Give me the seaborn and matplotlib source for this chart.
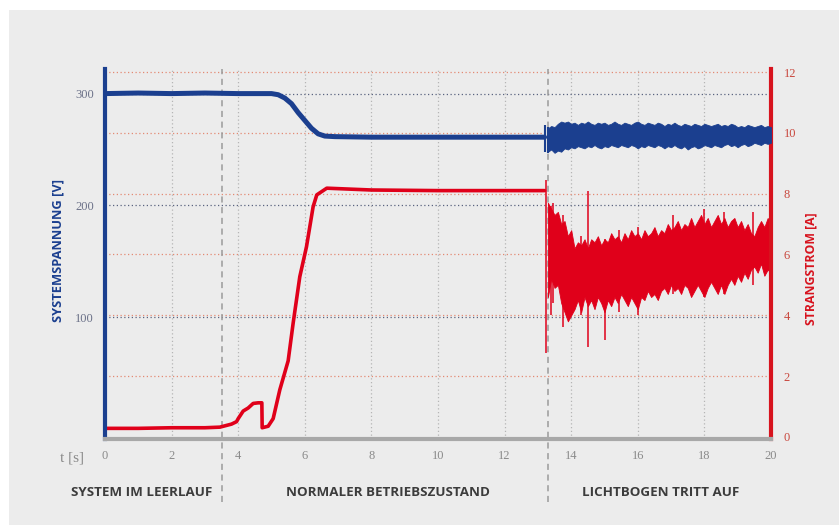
import matplotlib
matplotlib.use('Agg')
import matplotlib.pyplot as plt
import matplotlib.transforms as mtransforms
from matplotlib.patches import Rectangle
import seaborn as sns

# --- data ------------------------------------------------------------------
# steady part of the system voltage [V]
volt_t = [0, 1, 2, 3, 4, 5.0, 5.2, 5.4, 5.6, 5.8, 6.0, 6.2, 6.4, 6.6, 6.9, 8, 10, 12, 13.2]
volt_v = [300, 300.5, 300, 300.5, 300, 300, 299, 296, 291, 283, 276, 269, 264, 262, 261.5, 261, 261, 261, 261]

# steady part of the string current [A]
curr_t = [0, 1, 2, 3, 3.45, 3.8, 3.95, 4.0, 4.15, 4.3, 4.45, 4.6, 4.71, 4.72, 4.9, 5.05,
          5.25, 5.5, 5.65, 5.85, 6.05, 6.25, 6.36, 6.66, 8, 10, 12, 13.2]
curr_v = [0.28, 0.28, 0.3, 0.3, 0.32, 0.42, 0.5, 0.6, 0.85, 0.95, 1.1, 1.12, 1.12, 0.3, 0.35, 0.6,
          1.55, 2.5, 3.74, 5.27, 6.25, 7.57, 7.96, 8.18, 8.12, 8.1, 8.1, 8.1]

# arc phase (13.3 s .. 20 s, every 0.1 s): envelopes of the noisy traces
arc_t = [13.3, 13.4, 13.5, 13.6, 13.7, 13.8, 13.9, 14.0, 14.1, 14.2, 14.3, 14.4, 14.5, 14.6,
         14.7, 14.8, 14.9, 15.0, 15.1, 15.2, 15.3, 15.4, 15.5, 15.6, 15.7, 15.8, 15.9, 16.0,
         16.1, 16.2, 16.3, 16.4, 16.5, 16.6, 16.7, 16.8, 16.9, 17.0, 17.1, 17.2, 17.3, 17.4,
         17.5, 17.6, 17.7, 17.8, 17.9, 18.0, 18.1, 18.2, 18.3, 18.4, 18.5, 18.6, 18.7, 18.8,
         18.9, 19.0, 19.1, 19.2, 19.3, 19.4, 19.5, 19.6, 19.7, 19.8, 19.9, 20.0]
volt_hi = [269, 271, 270, 273, 275, 274, 275, 273, 274, 272, 274, 273, 275, 273,
           272, 274, 273, 274, 272, 273, 275, 273, 272, 274, 273, 272, 274, 275,
           273, 272, 274, 273, 272, 274, 273, 271, 273, 272, 274, 272, 271, 273,
           272, 271, 273, 272, 271, 273, 272, 271, 272, 273, 271, 272, 271, 273,
           272, 270, 271, 270, 272, 271, 270, 271, 272, 270, 271, 270]
volt_lo = [248, 250, 247, 249, 248, 251, 250, 252, 251, 253, 252, 251, 253, 252,
           254, 252, 251, 253, 252, 254, 253, 252, 254, 253, 252, 254, 253, 251,
           253, 252, 254, 253, 252, 254, 253, 251, 253, 252, 254, 252, 251, 253,
           250, 252, 253, 251, 252, 254, 253, 252, 254, 253, 252, 254, 255, 253,
           254, 252, 254, 255, 253, 254, 256, 255, 254, 256, 255, 256]
curr_hi = [7.7, 7.5, 7.3, 7.4, 7.0, 7.1, 6.6, 6.8, 6.2, 6.4, 6.3, 6.5, 6.2, 6.5,
           6.4, 6.6, 6.3, 6.5, 6.4, 6.7, 6.5, 6.6, 6.4, 6.7, 6.5, 6.8, 6.6, 6.7,
           6.5, 6.8, 6.6, 6.7, 6.9, 6.6, 6.8, 6.7, 7.0, 6.8, 6.9, 7.1, 6.8, 7.0,
           6.9, 7.2, 6.9, 7.1, 7.3, 7.0, 7.2, 6.9, 7.1, 7.3, 7.0, 7.2, 6.9, 7.1,
           7.2, 6.9, 7.1, 6.8, 7.0, 6.7, 6.6, 6.9, 7.1, 6.9, 7.2, 7.0]
curr_lo = [4.6, 5.2, 4.9, 5.0, 4.4, 4.1, 3.8, 4.0, 4.2, 4.5, 4.1, 4.6, 4.3, 4.5,
           4.2, 4.6, 4.4, 4.1, 4.5, 4.3, 4.6, 4.4, 4.7, 4.5, 4.3, 4.6, 4.4, 4.2,
           4.6, 4.5, 4.8, 4.6, 4.7, 4.5, 4.8, 4.9, 4.7, 5.0, 4.8, 4.9, 4.7, 5.0,
           4.9, 4.6, 4.8, 5.0, 4.8, 4.6, 4.9, 5.1, 4.9, 4.7, 5.0, 4.7, 5.0, 5.2,
           5.0, 5.3, 5.1, 5.4, 5.2, 5.5, 5.6, 5.4, 5.7, 5.3, 5.5, 5.4]

# single spikes in the current during the arc (time, low, high)
spike_t = [13.25, 13.4, 13.45, 13.75, 14.5, 14.3, 15.0, 15.45, 16.0, 17.05, 18.0, 18.6, 19.45]
spike_lo = [2.75, 4.0, 4.4, 3.6, 2.95, 4.0, 3.2, 4.1, 4.0, 4.7, 4.6, 4.7, 5.0]
spike_hi = [8.45, 7.6, 7.7, 7.3, 8.1, 6.6, 6.5, 6.8, 6.9, 7.3, 7.5, 7.4, 7.4]

# blue glitch at arc ignition (time, low, high)
vspike_t = [13.22, 13.3]
vspike_lo = [248, 247]
vspike_hi = [272, 270]

phase_x = [3.5, 13.3]
phase_labels = ['SYSTEM IM LEERLAUF', 'NORMALER BETRIEBSZUSTAND', 'LICHTBOGEN TRITT AUF']
phase_label_x = [1.1, 8.5, 16.7]

x_ticks = [0, 2, 4, 6, 8, 10, 12, 14, 16, 18, 20]
left_ticks = [100, 200, 300]
right_ticks = [0, 2, 4, 6, 8, 10, 12]

BLUE = '#1b3f8f'
RED = '#e0001a'
PANEL = '#ececec'

sns.set_theme(style='white')
serif = ['Liberation Serif', 'DejaVu Serif']
narrow = ['Liberation Sans Narrow', 'Open Sans', 'DejaVu Sans']

fig = plt.figure(figsize=(8.39, 5.25), dpi=100, facecolor='white')
fig.patches.append(Rectangle((9 / 839, 0), 1, 1 - 10 / 525, transform=fig.transFigure,
                             facecolor=PANEL, edgecolor='none', zorder=-10))

ax = fig.add_axes([105 / 839, 1 - 439 / 525, 666 / 839, 370 / 525])
ax2 = ax.twinx()
# current axis behind, voltage axis on top
ax2.set_zorder(ax.get_zorder() - 1)
ax.patch.set_visible(False)
ax2.patch.set_visible(False)

ax.set_xlim(0, 20)
ax.set_ylim(-9, 322)
ax2.set_ylim(-0.07, 12.1)

# grid, all drawn on the rear axis
for xv in x_ticks[1:-1]:
    ax2.axvline(xv, color='#b5b5b5', lw=0.9, ls=(0, (1, 2)), zorder=0.5)
for yv in right_ticks[1:]:
    ax2.axhline(yv, color='#e38a74', lw=0.9, ls=(0, (1, 2)), zorder=0.5)
blend = mtransforms.blended_transform_factory(ax2.transAxes, ax.transData)
for yv in left_ticks:
    ax2.plot([0, 1], [yv, yv], transform=blend, color='#5a6480', lw=0.9,
             ls=(0, (1, 2)), zorder=0.5)

# phase separators reaching down to the labels
for xv in phase_x:
    ax2.axvline(xv, ymin=-0.17, ymax=1, color='#9a9a9a', lw=1.1, ls=(0, (4, 3)),
                clip_on=False, zorder=1)

# current
sns.lineplot(x=curr_t, y=curr_v, ax=ax2, color=RED, lw=2.6, estimator=None, sort=False)
ax2.fill_between(arc_t, curr_lo, curr_hi, color=RED, lw=0.6, zorder=2)
ax2.vlines(spike_t, spike_lo, spike_hi, color=RED, lw=1.1, zorder=2)

# voltage
sns.lineplot(x=volt_t, y=volt_v, ax=ax, color=BLUE, lw=3.6, estimator=None, sort=False)
ax.fill_between(arc_t, volt_lo, volt_hi, color=BLUE, lw=0.6, zorder=2)
ax.vlines(vspike_t, vspike_lo, vspike_hi, color=BLUE, lw=1.5, zorder=2)

# spines
for s in ['top', 'right']:
    ax.spines[s].set_visible(False)
for s in ['top', 'left', 'bottom']:
    ax2.spines[s].set_visible(False)
ax.spines['left'].set_color(BLUE)
ax.spines['left'].set_linewidth(3)
ax.spines['bottom'].set_color('#a8a8a8')
ax.spines['bottom'].set_linewidth(3)
ax2.spines['right'].set_color('#d7131e')
ax2.spines['right'].set_linewidth(3)

# ticks
ax.set_xticks(x_ticks)
ax.set_yticks(left_ticks)
ax2.set_yticks(right_ticks)
ax.tick_params(axis='x', length=0, pad=8, labelsize=9, labelcolor='#8a8a8a')
ax.tick_params(axis='y', length=0, pad=8, labelsize=9, labelcolor='#6b7188')
ax2.tick_params(axis='y', length=0, pad=9, labelsize=9, labelcolor='#c9483e')
for lab in ax.get_xticklabels() + ax.get_yticklabels() + ax2.get_yticklabels():
    lab.set_family(serif)

ax.set_xlabel('')
ax.set_ylabel('SYSTEMSPANNUNG [V]', color=BLUE, fontsize=9.3, fontweight='bold',
              family=narrow)
ax.yaxis.set_label_coords(-0.061, 0.51)
ax2.set_ylabel('STRANGSTROM [A]', color='#d7131e', fontsize=8.8, fontweight='bold',
               family=narrow, rotation=90)
ax2.yaxis.set_label_coords(1.05, 0.46)

ax.text(-0.032, -0.05, 't [s]', transform=ax.transAxes, ha='right', va='center',
        fontsize=11, color='#8a8a8a', family=serif)

tb = mtransforms.blended_transform_factory(ax.transData, ax.transAxes)
for xv, lab in zip(phase_label_x, phase_labels):
    ax.text(xv, -0.145, lab, transform=tb, ha='center', va='center', fontsize=9.6,
            fontweight='bold', color='#3c3c3c', family=narrow)

fig.savefig('out.png', dpi=100, facecolor='white')
